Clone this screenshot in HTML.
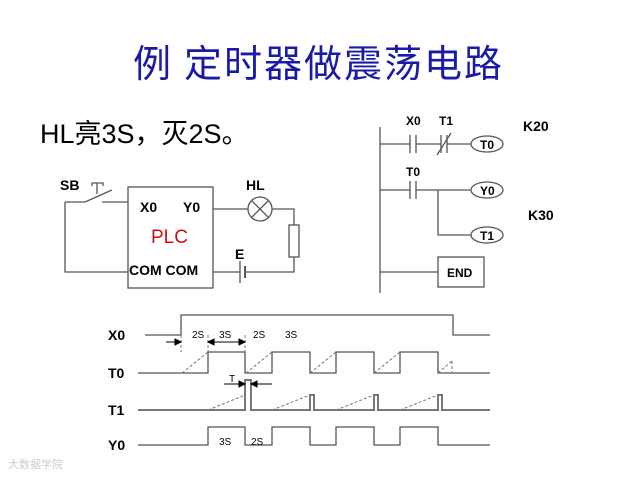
<!DOCTYPE html>
<html><head><meta charset="utf-8"><style>
html,body{margin:0;padding:0;background:#fff;width:640px;height:480px;overflow:hidden}
</style></head><body>
<svg width="640" height="480" xmlns="http://www.w3.org/2000/svg" font-family="'Liberation Sans','Noto Sans CJK SC',sans-serif">
<text x="133" y="77" font-size="38" fill="#1a1aa8">例</text>
<text x="184" y="77" font-size="38" fill="#1a1aa8" letter-spacing="2">定时器做震荡电路</text>
<text x="40" y="143" font-size="27" fill="#000">HL亮3S，灭2S。</text>

<!-- circuit -->
<g stroke="#555" stroke-width="1.3" fill="none">
<rect x="128" y="187" width="85" height="101"/>
<polyline points="128,202 102,202"/>
<polyline points="65,202 85,202 112,190"/>
<polyline points="65,202 65,272 128,272"/>
<polyline points="92,186 92,183 103,183 103,186"/>
<line x1="97" y1="183" x2="97" y2="194"/>
<line x1="213" y1="209" x2="248" y2="209"/>
<circle cx="260" cy="209" r="12"/>
<line x1="252" y1="201" x2="268" y2="217"/><line x1="268" y1="201" x2="252" y2="217"/>
<polyline points="272,209 294,209 294,225"/>
<rect x="289" y="225" width="10" height="32"/>
<polyline points="294,257 294,272 245,272"/>
<line x1="213" y1="272" x2="240" y2="272"/>
<line x1="240" y1="261" x2="240" y2="283"/>
<line x1="245" y1="266" x2="245" y2="278" stroke-width="2"/>
</g>
<g font-weight="bold" font-size="14" fill="#000">
<text x="60" y="190">SB</text>
<text x="140" y="212">X0</text>
<text x="183" y="212">Y0</text>
<text x="246" y="190">HL</text>
<text x="235" y="259">E</text>
<text x="129" y="275" font-size="14">COM COM</text>
</g>
<text x="151" y="243" font-size="19" fill="#d01010">PLC</text>

<!-- ladder -->
<g stroke="#555" stroke-width="1.3" fill="none">
<line x1="380" y1="127" x2="380" y2="293"/>
<line x1="380" y1="144" x2="410" y2="144"/>
<line x1="410" y1="135" x2="410" y2="153"/><line x1="416" y1="135" x2="416" y2="153"/>
<line x1="416" y1="144" x2="441" y2="144"/>
<line x1="441" y1="135" x2="441" y2="153"/><line x1="447" y1="135" x2="447" y2="153"/>
<line x1="437" y1="155" x2="451" y2="133"/>
<line x1="447" y1="144" x2="471" y2="144"/>
<ellipse cx="487" cy="144" rx="16" ry="8"/>
<line x1="380" y1="190" x2="410" y2="190"/>
<line x1="410" y1="181" x2="410" y2="199"/><line x1="416" y1="181" x2="416" y2="199"/>
<line x1="416" y1="190" x2="471" y2="190"/>
<ellipse cx="487" cy="190" rx="16" ry="8"/>
<polyline points="438,190 438,235 471,235"/>
<ellipse cx="487" cy="235" rx="16" ry="8"/>
<line x1="380" y1="272" x2="438" y2="272"/>
<rect x="438" y="257" width="46" height="30"/>
</g>
<g font-weight="bold" font-size="12" fill="#000">
<text x="406" y="125">X0</text><text x="439" y="125">T1</text>
<text x="523" y="131" font-size="14">K20</text>
<text x="480" y="149">T0</text>
<text x="406" y="176">T0</text>
<text x="480" y="195">Y0</text>
<text x="528" y="220" font-size="14">K30</text>
<text x="480" y="240">T1</text>
<text x="447" y="277">END</text>
</g>

<!-- timing -->
<g font-weight="bold" font-size="14" fill="#000">
<text x="108" y="340">X0</text><text x="108" y="378">T0</text>
<text x="108" y="415">T1</text><text x="108" y="450">Y0</text>
</g>
<g stroke="#555" stroke-width="1.3" fill="none">
<polyline points="145,335 181,335 181,315 453,315 453,335 490,335"/>
<polyline points="138,373 208,373 208,352 245,352 245,373 272,373 272,352 310,352 310,373 336,373 336,352 374,352 374,373 400,373 400,352 438,352 438,373 490,373"/>
<polyline points="138,410 245,410 245,380 251,380 251,410 310,410 310,395 314,395 314,410 374,410 374,395 378,395 378,410 438,410 438,395 442,395 442,410 490,410" stroke="#777" stroke-width="2"/>
<polyline points="138,445 208,445 208,427 245,427 245,445 272,445 272,427 310,427 310,445 336,445 336,427 374,427 374,445 400,445 400,427 438,427 438,445 490,445"/>
</g>
<g stroke="#777" stroke-width="1" fill="none" stroke-dasharray="3,2">
<line x1="182" y1="373" x2="208" y2="352"/>
<line x1="246" y1="373" x2="272" y2="352"/>
<line x1="310" y1="373" x2="336" y2="352"/>
<line x1="374" y1="373" x2="400" y2="352"/>
<line x1="438" y1="373" x2="452" y2="361"/>
<line x1="452" y1="361" x2="452" y2="373"/>
<line x1="208" y1="410" x2="245" y2="395"/>
<line x1="272" y1="410" x2="310" y2="395"/>
<line x1="336" y1="410" x2="374" y2="395"/>
<line x1="400" y1="410" x2="438" y2="395"/>
<line x1="181" y1="335" x2="181" y2="352"/>
<line x1="208" y1="335" x2="208" y2="352"/>
<line x1="245" y1="335" x2="245" y2="352"/>
</g>
<g stroke="#000" stroke-width="1" fill="#000">
<line x1="166" y1="342" x2="181" y2="342"/><polygon points="181,342 175,339 175,345"/>
<line x1="208" y1="342" x2="245" y2="342"/><polygon points="208,342 214,339 214,345"/><polygon points="245,342 239,339 239,345"/>
<line x1="224" y1="384" x2="245" y2="384"/><polygon points="245,384 239,381 239,387"/>
<line x1="251" y1="384" x2="272" y2="384"/><polygon points="251,384 257,381 257,387"/>
</g>
<g font-size="10" fill="#000">
<text x="192" y="338">2S</text><text x="219" y="338">3S</text>
<text x="253" y="338">2S</text><text x="285" y="338">3S</text>
<text x="229" y="382">T</text>
<text x="219" y="445">3S</text><text x="251" y="445">2S</text>
</g>
<text x="8" y="468" font-size="11" fill="#ccc">大数据学院</text>
</svg>
</body></html>
